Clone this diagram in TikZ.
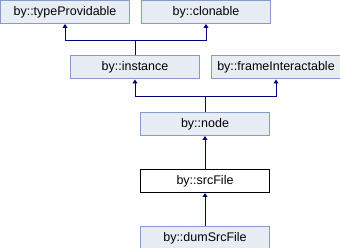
\documentclass[tikz,border=0pt]{standalone}
\usepackage{fontspec}
\setmainfont{Liberation Sans}
\usetikzlibrary{arrows.meta, positioning}

\definecolor{boxfill}{RGB}{232,236,244}
\definecolor{boxline}{RGB}{132,155,204}
\definecolor{linkcol}{RGB}{0,0,128}

\begin{document}
\begin{tikzpicture}[
  x=1pt, y=-1pt,
  node distance=33pt,
  box/.style={rectangle, draw=boxline, fill=boxfill, line width=1pt, minimum width=129pt, minimum height=23pt, inner sep=0pt, align=center, font=\fontsize{12.5}{14}\selectfont},
  curbox/.style={box, draw=black, fill=white},
  arrow/.style={{Triangle[width=5pt,length=4pt]}-, draw=linkcol, line width=1pt}
]
\useasboundingbox (0,0) rectangle (340,248);

\node (typeProvidable) [box] at (65,12) {by::typeProvidable};
\node (clonable) [box, right=11pt of typeProvidable] {by::clonable};
\node (instance) [box] at (135,67.5) {by::instance};
\node (frameInteractable) [box, right=11pt of instance] {by::frameInteractable};
\node (node) [box] at (205,124) {by::node};
\node (srcFile) [curbox, below=of node] {by::srcFile};
\node (dumSrcFile) [box, below=of srcFile] {by::dumSrcFile};

\draw [arrow] (typeProvidable.south) |- ([yshift=15pt]instance.north) -- (instance.north);
\draw [arrow] (clonable.south) |- ([yshift=15pt]instance.north);
\draw [arrow] (instance.south) |- ([yshift=15pt]node.north) -- (node.north);
\draw [arrow] (frameInteractable.south) |- ([yshift=15pt]node.north);
\draw [arrow] (node) -- (srcFile);
\draw [arrow] (srcFile) -- (dumSrcFile);

\end{tikzpicture}
\end{document}
